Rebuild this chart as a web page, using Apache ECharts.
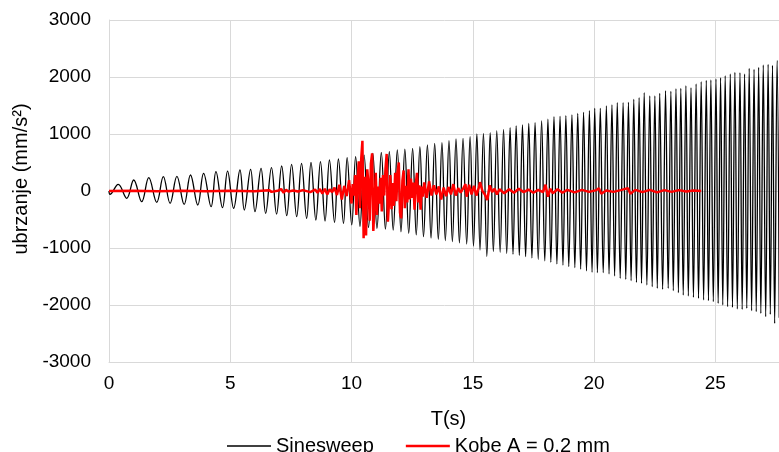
<!DOCTYPE html>
<html>
<head>
<meta charset="utf-8">
<script src="https://cdn.jsdelivr.net/npm/echarts@6/dist/echarts.min.js"></script>
<style>
html, body { margin: 0; padding: 0; background: #fff; }
#chart { width: 779px; height: 452px; }
</style>
</head>
<body>
<div id="chart"></div>
<script>
// Sinesweep: positive peaks (time, value)
var sweepPeakT = [0.38, 1.02, 1.64, 2.24, 2.80, 3.36, 3.90, 4.41, 4.89,
	5.40, 5.84, 6.27, 6.70, 7.12, 7.53, 7.94, 8.33, 8.72, 9.09, 9.46, 9.82,
	10.17, 10.52, 10.88, 11.23, 11.56, 11.89, 12.20, 12.52, 12.82, 13.13, 13.43, 13.73, 14.02, 14.31, 14.60, 14.89,
	15.17, 15.44, 15.72, 15.99, 16.27, 16.54, 16.79, 17.05, 17.31, 17.57, 17.84, 18.10, 18.35, 18.60, 18.84, 19.09, 19.33, 19.57, 19.81,
	20.03, 20.26, 20.51, 20.74, 20.96, 21.20, 21.42, 21.64, 21.86, 22.07, 22.30, 22.51, 22.71, 22.95, 23.17, 23.38, 23.58, 23.79,
	24.00, 24.21, 24.42, 24.63, 24.82, 25.03, 25.22, 25.41, 25.62, 25.81, 26.02, 26.21, 26.40, 26.60, 26.79, 26.98, 27.18, 27.36, 27.55];
var sweepPeakV = [117, 193, 234, 251, 255, 281, 310, 339, 350,
	368, 380, 398, 409, 439, 468, 485, 503, 515, 544, 561, 585,
	602, 630, 661, 675, 690, 720, 735, 749, 778, 807, 836, 850, 883, 912, 924, 953,
	1000, 1010, 1023, 1058, 1080, 1111, 1140, 1160, 1187, 1200, 1228, 1260, 1304, 1310, 1320, 1333, 1360, 1380, 1410,
	1450, 1450, 1491, 1509, 1550, 1550, 1556, 1608, 1637, 1725, 1667, 1667, 1713, 1760, 1749, 1795, 1801, 1848,
	1813, 1877, 1918, 1942, 1947, 1965, 1988, 2023, 2053, 2082, 2076, 2053, 2152, 2135, 2170, 2211, 2222, 2205, 2292];
// Sinesweep: negative peaks
var sweepTroughT = [0.04, 0.73, 1.35, 1.97, 2.52, 3.10, 3.66, 4.21, 4.68,
	5.14, 5.58, 6.02, 6.46, 6.91, 7.33, 7.74, 8.15, 8.53, 8.91, 9.30, 9.67, 10.01,
	10.35, 10.70, 11.05, 11.40, 11.72, 12.04, 12.36, 12.67, 12.97, 13.28, 13.58, 13.87, 14.16, 14.45, 14.75, 15.03,
	15.30, 15.58, 15.85, 16.13, 16.40, 16.66, 16.92, 17.18, 17.44, 17.70, 17.97, 18.22, 18.47, 18.72, 18.96, 19.21, 19.45, 19.69, 19.92,
	20.14, 20.38, 20.62, 20.85, 21.08, 21.31, 21.53, 21.75, 21.96, 22.18, 22.40, 22.61, 22.83, 23.06, 23.27, 23.48, 23.68, 23.89,
	24.10, 24.31, 24.52, 24.72, 24.92, 25.12, 25.31, 25.51, 25.71, 25.91, 26.11, 26.30, 26.50, 26.69, 26.88, 27.08, 27.27, 27.45, 27.64];
var sweepTroughV = [-58, -128, -187, -199, -216, -234, -246, -275, -292,
	-304, -333, -363, -392, -404, -433, -450, -480, -509, -526, -550, -567, -596,
	-620, -640, -655, -670, -684, -715, -743, -770, -801, -825, -848, -870, -889, -910, -930, -965,
	-1035, -1150, -1065, -1075, -1095, -1110, -1130, -1150, -1175, -1200, -1225, -1250, -1280, -1300, -1325, -1345, -1370, -1400, -1425,
	-1433, -1433, -1456, -1491, -1532, -1550, -1573, -1602, -1620, -1649, -1678, -1708, -1725, -1708, -1749, -1784, -1825, -1842,
	-1865, -1883, -1912, -1924, -1942, -1971, -2000, -2029, -2041, -2070, -2076, -2058, -2100, -2117, -2146, -2205, -2164, -2322, -2222];

// Kobe A = 0,2 mm
var kobeT = [0, 1, 2, 3, 4, 5, 6, 6.6, 6.7, 7.0, 7.1, 7.2, 7.3, 7.4, 7.6, 7.8, 8.0, 8.3, 8.5, 8.6, 8.7, 8.8, 8.9, 9.0,
	9.1, 9.2, 9.3, 9.4, 9.5, 9.6, 9.7, 9.8, 9.9, 10.0, 10.05, 10.1, 10.15, 10.2, 10.25, 10.3, 10.35, 10.4, 10.45, 10.5,
	10.55, 10.6, 10.65, 10.7, 10.75, 10.8, 10.85, 10.9, 10.95, 11.0, 11.05, 11.1, 11.15, 11.2, 11.25, 11.3, 11.35, 11.4,
	11.45, 11.5, 11.55, 11.6, 11.65, 11.7, 11.75, 11.8, 11.85, 11.9, 11.95, 12.0, 12.05, 12.1, 12.15, 12.2, 12.25, 12.3,
	12.35, 12.4, 12.45, 12.5, 12.55, 12.6, 12.65, 12.7, 12.75, 12.8, 12.85, 12.9, 12.95, 13.0, 13.1, 13.2, 13.3, 13.4,
	13.5, 13.6, 13.7, 13.8, 13.9, 14.0, 14.1, 14.2, 14.3, 14.4, 14.5, 14.6, 14.7, 14.75, 14.85, 14.95, 15.05, 15.15, 15.25,
	15.3, 15.4, 15.5, 15.6, 15.7, 15.8, 15.9, 16.0, 16.1, 16.3, 16.5, 16.7, 16.9, 17.1, 17.3, 17.5, 17.7, 17.9, 18.0, 18.1,
	18.2, 18.3, 18.5, 18.7, 18.9, 19.2, 19.5, 19.8, 20.1, 20.2, 20.3, 20.5, 20.8, 21.1, 21.4, 21.5, 21.7, 22.0, 22.3, 22.6,
	22.9, 23.2, 23.5, 23.8, 24.1, 24.42];
var kobeV = [0, 3, -3, 3, -3, 3, -3, 15, -15, 10, 35, -30, 20, -10, 10, -10, 15, -20, 25, -30, 35, -45, 40, -60,
	30, -20, 60, -70, 110, -150, 90, -90, 190, -220, 120, -80, 280, -420, 200, 520, -300, 560, 880, -830,
	250, -780, 380, 120, -520, 480, 660, -700, -250, 320, -420, 80, -220, 230, -360, 280, -80, 380,
	650, -540, -180, 280, -320, 140, -260, 320, -180, 340, 500, -380, -480, 180, 360, -300, 90, -200,
	380, -150, 220, -120, 150, -330, 120, 320, -200, 100, -330, 80, -100, 150, -120, 170, -80, 100,
	-60, 80, -150, 60, -90, 70, -60, 120, -80, 50, -30, 40, 120, -100, 110, -60, 90, -80, 60,
	155, 0, -60, -160, 100, -20, 40, -60, 30, -40, 30, -30, 40, -20, 25, -30, 20, -20, 110, -100,
	40, -40, 30, -30, 20, -25, 20, -15, 15, 50, -50, 10, -15, 15, 50, -50, 20, -20, 20, -25,
	15, -15, 15, -10, 10, 0];

var xTicks = { min: 0, max: 28, step: 5 };
var yTicks = { min: -3000, max: 3000, step: 1000 };

var sweepData = [[0, 0]];
for (var i = 0; i < sweepPeakT.length; i++) {
	sweepData.push([sweepPeakT[i], sweepPeakV[i]]);
}
for (var j = 0; j < sweepTroughT.length; j++) {
	sweepData.push([sweepTroughT[j], sweepTroughV[j]]);
}
sweepData.sort(function(a, b) { return a[0] - b[0]; });

var kobeData = [];
for (var k = 0; k < kobeT.length; k++) {
	kobeData.push([kobeT[k], kobeV[k]]);
}

var chart = echarts.init(document.getElementById('chart'));
var font = 'Liberation Sans, Arial, sans-serif';
var grey = '#d9d9d9';

var option = {
	animation: false,
	textStyle: { fontFamily: font },
	// plot area runs a little past the right edge, as in the source picture
	grid: { left: 109, right: -9, top: 20, bottom: 90, outerBoundsMode: 'none', containLabel: false },
	legend: {
		top: 431,
		left: 222,
		itemWidth: 44,
		itemHeight: 13,
		itemGap: 32,
		textStyle: { fontSize: 20, color: '#000', fontFamily: font },
		data: [
			{ name: 'Sinesweep', icon: 'path://M0,0H44V1.5H0Z' },
			{ name: 'Kobe A = 0,2 mm', icon: 'path://M0,0H44V2.5H0Z' }
		]
	},
	xAxis: {
		type: 'value',
		min: xTicks.min,
		max: xTicks.max,
		interval: xTicks.step,
		name: 'T(s)',
		nameLocation: 'middle',
		nameGap: 47,
		nameTextStyle: { fontSize: 20, color: '#000', fontFamily: font },
		axisLine: { onZero: false, lineStyle: { color: grey, width: 1 } },
		axisTick: { show: false },
		axisLabel: { fontSize: 19, color: '#000', margin: 12, showMaxLabel: false },
		splitLine: { lineStyle: { color: grey, width: 1 } }
	},
	yAxis: {
		type: 'value',
		min: yTicks.min,
		max: yTicks.max,
		interval: yTicks.step,
		name: 'ubrzanje (mm/s²)',
		nameLocation: 'middle',
		nameGap: 78,
		nameTextStyle: { fontSize: 20, color: '#000', fontFamily: font, padding: [0, 0, 0, 24] },
		axisLine: { show: true, onZero: false, lineStyle: { color: grey, width: 1 } },
		axisTick: { show: false },
		axisLabel: {
			fontSize: 19, color: '#000', margin: 18,
			formatter: function(v) { return String(v); }
		},
		splitLine: { lineStyle: { color: grey, width: 1 } }
	},
	series: [{
		name: 'Sinesweep',
		type: 'line',
		symbol: 'none',
		smooth: 0.4,
		data: sweepData,
		lineStyle: { color: '#000', width: 1.3 },
		itemStyle: { color: '#000' }
	}, {
		name: 'Kobe A = 0,2 mm',
		type: 'line',
		symbol: 'none',
		data: kobeData,
		lineStyle: { color: '#ff0000', width: 2.5 },
		itemStyle: { color: '#ff0000' }
	}]
};
chart.setOption(option);
</script>
</body>
</html>
